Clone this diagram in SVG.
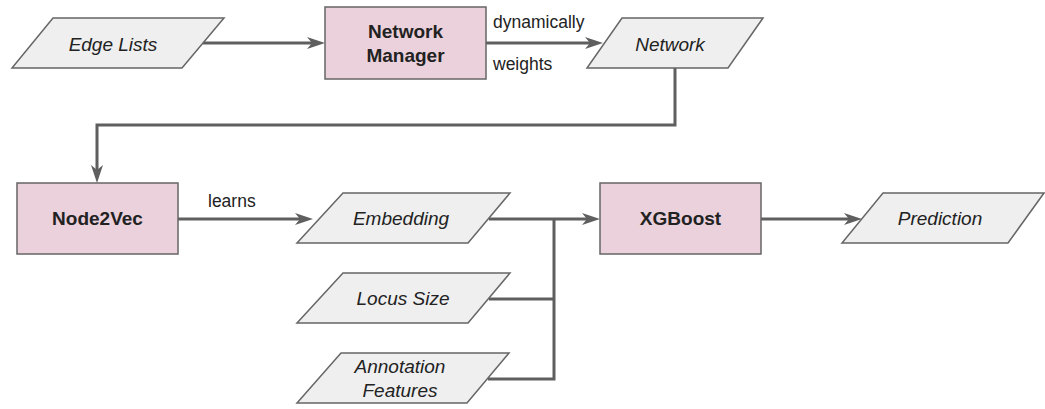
<svg xmlns="http://www.w3.org/2000/svg" width="1045" height="409" viewBox="0 0 1045 409">
  <style>
    .data { fill: #efefef; stroke: #666666; stroke-width: 1.5; }
    .proc { fill: #ead1dc; stroke: #666666; stroke-width: 1.5; }
    .lbl-i { font-family: "Liberation Sans", Arial, sans-serif; font-size: 19px; font-style: italic; fill: #222222; text-anchor: middle; }
    .lbl-b { font-family: "Liberation Sans", Arial, sans-serif; font-size: 19px; font-weight: bold; fill: #222222; text-anchor: middle; }
    .edge-lbl { font-family: "Liberation Sans", Arial, sans-serif; font-size: 17.5px; fill: #222222; }
    .wire { fill: none; stroke: #5f5f5f; stroke-width: 3; }
  </style>
  <defs>
    <marker id="arrow" markerUnits="userSpaceOnUse" markerWidth="20" markerHeight="14" refX="6" refY="7" orient="auto">
      <path d="M18,7 L0,1 L5,7 L0,13 Z" fill="#5f5f5f"/>
    </marker>
  </defs>

  <rect width="1045" height="409" fill="#ffffff"/>

  <g id="connectors">
    <line class="wire" x1="203" y1="43" x2="313" y2="43" marker-end="url(#arrow)"/>
    <line class="wire" x1="486" y1="43" x2="591" y2="43" marker-end="url(#arrow)"/>
    <path class="wire" d="M675,68 V125 H97 V171" marker-end="url(#arrow)"/>
    <line class="wire" x1="178" y1="219" x2="301" y2="219" marker-end="url(#arrow)"/>
    <line class="wire" x1="489" y1="219" x2="588" y2="219" marker-end="url(#arrow)"/>
    <path class="wire" d="M489,299 H554"/>
    <path class="wire" d="M488,379 H554 V219"/>
    <line class="wire" x1="761" y1="219" x2="850" y2="219" marker-end="url(#arrow)"/>
    <text class="edge-lbl" x="493" y="28">dynamically</text>
    <text class="edge-lbl" x="493" y="70">weights</text>
    <text class="edge-lbl" x="208" y="207">learns</text>
  </g>

  <g id="edge-lists">
    <polygon class="data" points="53,18 224,18 182,68 12,68"/>
    <text class="lbl-i" x="113" y="51">Edge Lists</text>
  </g>

  <g id="network-manager">
    <rect class="proc" x="325" y="7" width="161" height="72"/>
    <text class="lbl-b" x="405.5" y="38">Network</text>
    <text class="lbl-b" x="405.5" y="62">Manager</text>
  </g>

  <g id="network">
    <polygon class="data" points="622,18 763,18 728,68 587,68"/>
    <text class="lbl-i" x="670" y="51">Network</text>
  </g>

  <g id="node2vec">
    <rect class="proc" x="17" y="183" width="161" height="71"/>
    <text class="lbl-b" x="97.5" y="225">Node2Vec</text>
  </g>

  <g id="embedding">
    <polygon class="data" points="343,193 510,193 468,243 297,243"/>
    <text class="lbl-i" x="401" y="225">Embedding</text>
  </g>

  <g id="locus-size">
    <polygon class="data" points="343,273 510,273 468,323 297,323"/>
    <text class="lbl-i" x="403" y="305">Locus Size</text>
  </g>

  <g id="annotation-features">
    <polygon class="data" points="341,353 509,353 467,403 297,403"/>
    <text class="lbl-i" x="400" y="373">Annotation</text>
    <text class="lbl-i" x="400" y="397">Features</text>
  </g>

  <g id="xgboost">
    <rect class="proc" x="600" y="183" width="161" height="71"/>
    <text class="lbl-b" x="680.5" y="225">XGBoost</text>
  </g>

  <g id="prediction">
    <polygon class="data" points="883,193 1044,193 1008,243 842,243"/>
    <text class="lbl-i" x="940" y="225">Prediction</text>
  </g>
</svg>
